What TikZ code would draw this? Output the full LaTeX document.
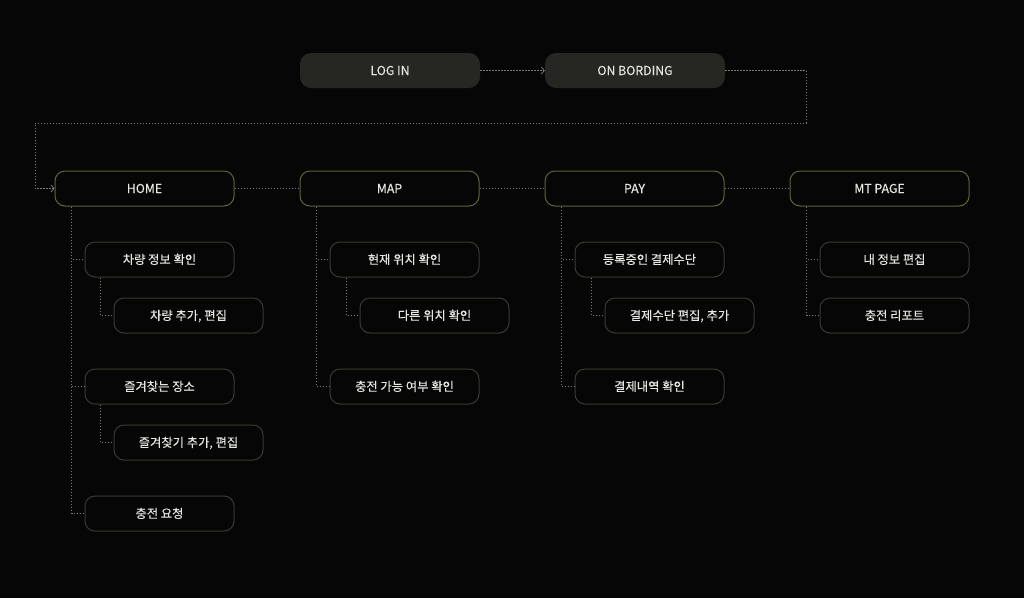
\documentclass[tikz,border=0pt]{standalone}
\usepackage{fontspec}
\setmainfont[FakeBold=0.25]{Noto Sans CJK KR}
\usetikzlibrary{arrows.meta}
\definecolor{bg}{HTML}{060606}
\definecolor{topfill}{HTML}{262622}
\definecolor{mainborder}{HTML}{63633A}
\definecolor{subborder}{HTML}{3A3A32}
\definecolor{txt}{HTML}{E6E6E2}
\definecolor{lnc}{HTML}{7A7A76}
\tikzset{
  lbl/.style={text=txt, font=\fontsize{12.3}{14}\selectfont, inner sep=0pt, text depth=0pt, text height=9pt},
  topbox/.style={lbl, rectangle, rounded corners=11pt, fill=topfill, draw=none, minimum width=180pt, minimum height=35pt},
  mainbox/.style={lbl, rectangle, rounded corners=10pt, fill=bg, draw=mainborder, line width=1pt, minimum width=179pt, minimum height=35pt},
  subbox/.style={lbl, rectangle, rounded corners=10pt, fill=bg, draw=subborder, line width=1pt, minimum width=149pt, minimum height=35pt},
  conn/.style={draw=lnc, line width=0.8pt, dash pattern=on 1.5pt off 1.5pt},
  arr/.style={conn, -{Straight Barb[length=3pt,width=7pt,line width=0.8pt]}}
}
\begin{document}
\begin{tikzpicture}[x=1pt,y=-1pt]
\fill[bg] (0,0) rectangle (1024,598);
\useasboundingbox (0,0) rectangle (1024,598);
% top
\node[topbox] (login) at (390,70.5) {LOG IN};
\node[topbox] (onb) at (635,70.5) {ON BORDING};
% main
\node[mainbox] (home) at (144.5,188.5) {HOME};
\node[mainbox] (map) at (389.5,188.5) {MAP};
\node[mainbox] (pay) at (634.5,188.5) {PAY};
\node[mainbox] (mt) at (879.5,188.5) {MT PAGE};
% home children
\node[subbox] (h1) at (159.5,259.5) {차량 정보 확인};
\node[subbox] (h2) at (188.5,315.5) {차량 추가, 편집};
\node[subbox] (h3) at (159.5,386.5) {즐겨찾는 장소};
\node[subbox] (h4) at (188.5,442.5) {즐겨찾기 추가, 편집};
\node[subbox] (h5) at (159.5,513.5) {충전 요청};
% map children
\node[subbox] (m1) at (404.5,259.5) {현재 위치 확인};
\node[subbox] (m2) at (434.5,315.5) {다른 위치 확인};
\node[subbox] (m3) at (404.5,386.5) {충전 가능 여부 확인};
% pay children
\node[subbox] (p1) at (649.5,259.5) {등록중인 결제수단};
\node[subbox] (p2) at (679.5,315.5) {결제수단 편집, 추가};
\node[subbox] (p3) at (649.5,386.5) {결제내역 확인};
% mt children
\node[subbox] (t1) at (894.5,259.5) {내 정보 편집};
\node[subbox] (t2) at (894.5,315.5) {충전 리포트};
% top connectors
\draw[arr] (login.east) -- (onb.west);
\coordinate (r1) at (806,123);
\coordinate (l1) at (35,123);
\draw[arr] (onb.east) -| (r1) -- (l1) |- (home.west);
% main row connectors
\draw[conn] (home.east) -- (map.west);
\draw[conn] (map.east) -- (pay.west);
\draw[conn] (pay.east) -- (mt.west);
% home tree
\draw[conn] ([xshift=17pt]home.south west) |- (h1.west);
\draw[conn] ([xshift=17pt]home.south west) |- (h3.west);
\draw[conn] ([xshift=17pt]home.south west) |- (h5.west);
\draw[conn] ([xshift=16pt]h1.south west) |- (h2.west);
\draw[conn] ([xshift=16pt]h3.south west) |- (h4.west);
% map tree
\draw[conn] ([xshift=17pt]map.south west) |- (m1.west);
\draw[conn] ([xshift=17pt]map.south west) |- (m3.west);
\draw[conn] ([xshift=17pt]m1.south west) |- (m2.west);
% pay tree
\draw[conn] ([xshift=17pt]pay.south west) |- (p1.west);
\draw[conn] ([xshift=17pt]pay.south west) |- (p3.west);
\draw[conn] ([xshift=17pt]p1.south west) |- (p2.west);
% mt tree
\draw[conn] ([xshift=17pt]mt.south west) |- (t1.west);
\draw[conn] ([xshift=17pt]mt.south west) |- (t2.west);
\end{tikzpicture}
\end{document}
